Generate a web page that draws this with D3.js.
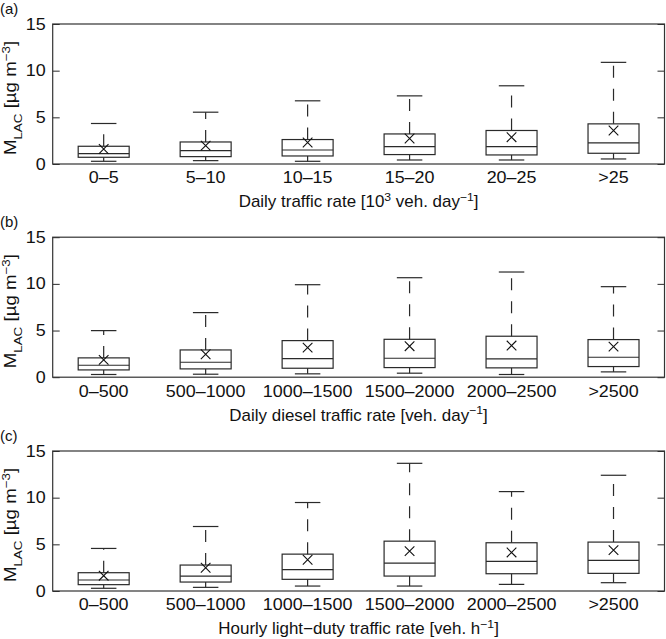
<!DOCTYPE html>
<html>
<head>
<meta charset="utf-8">
<script src="https://cdn.jsdelivr.net/npm/d3@7"></script>
<style>
  html, body { margin: 0; padding: 0; background: #fff; }
  svg { display: block; }
  text { font-family: "Liberation Sans", Arial, Helvetica, sans-serif; fill: #111; }
</style>
</head>
<body>
<svg id="chart" width="666" height="639"></svg>
<script>
// ---------- data ----------
const catsA = ["0–5", "5–10", "10–15", "15–20", "20–25", ">25"];
const catsB = ["0–500", "500–1000", "1000–1500", "1500–2000", "2000–2500", ">2500"];
const catsC = ["0–500", "500–1000", "1000–1500", "1500–2000", "2000–2500", ">2500"];

const lowA  = [0.29, 0.36, 0.29, 0.43, 0.43, 0.54];
const q1A   = [0.72, 0.79, 0.86, 1.01, 0.97, 1.15];
const medA  = [1.12, 1.44, 1.50, 1.87, 1.87, 2.26];
const q3A   = [1.90, 2.36, 2.62, 3.22, 3.59, 4.30];
const highA = [4.34, 5.55, 6.77, 7.30, 8.38, 10.89];
const meanA = [1.61, 1.97, 2.30, 2.73, 2.87, 3.59];

const lowB  = [0.29, 0.32, 0.36, 0.43, 0.29, 0.57];
const q1B   = [0.78, 0.89, 0.96, 1.03, 1.00, 1.14];
const medB  = [1.28, 1.60, 2.00, 2.03, 1.96, 2.14];
const q3B   = [2.07, 2.92, 3.92, 4.06, 4.39, 4.03];
const highB = [4.99, 6.92, 9.91, 10.66, 11.27, 9.70];
const meanB = [1.85, 2.46, 3.17, 3.32, 3.39, 3.28];

const lowC  = [0.29, 0.39, 0.53, 0.53, 0.71, 0.89];
const q1C   = [0.68, 0.96, 1.25, 1.60, 1.85, 1.89];
const medC  = [1.18, 1.60, 2.28, 2.99, 3.17, 3.28];
const q3C   = [1.96, 2.78, 3.95, 5.34, 5.17, 5.24];
const highC = [4.56, 6.91, 9.48, 13.68, 10.65, 12.40];
const meanC = [1.64, 2.49, 3.35, 4.27, 4.13, 4.38];

const yTicks = [0, 5, 10, 15];
const panelLetters = ["(a)", "(b)", "(c)"];

// ---------- layout ----------
const svg = d3.select("#chart");
const left = 52.7, right = 664.5;
const panelTops = [24, 237.2, 451];
const panelH = 140;
const lineCol = "#2a2a2a";
const fontSize = 16;
const sxTick = 1.12;   // horizontal glyph stretch to match the reference lettering
const sxTitle = 1.06;

const panels = [
  { cats: catsA, low: lowA, q1: q1A, med: medA, q3: q3A, high: highA, mean: meanA,
    xtitle: [["Daily traffic rate [10", null], ["3", "sup"], [" veh. day", null], ["−1", "sup"], ["]", null]] },
  { cats: catsB, low: lowB, q1: q1B, med: medB, q3: q3B, high: highB, mean: meanB,
    xtitle: [["Daily diesel traffic rate [veh. day", null], ["−1", "sup"], ["]", null]] },
  { cats: catsC, low: lowC, q1: q1C, med: medC, q3: q3C, high: highC, mean: meanC,
    xtitle: [["Hourly light−duty traffic rate [veh. h", null], ["−1", "sup"], ["]", null]] }
];

function addRich(sel, parts, baseSize) {
  parts.forEach(([txt, kind]) => {
    const t = sel.append("tspan").text(txt);
    if (kind === "sup") {
      t.attr("font-size", baseSize * 0.72).attr("baseline-shift", "super");
    } else if (kind === "sub") {
      t.attr("font-size", baseSize * 0.72).attr("baseline-shift", "sub");
    }
  });
}

function stretch(sel, s) {
  sel.each(function () {
    const t = d3.select(this);
    const x0 = +t.attr("x") || 0, y0 = +t.attr("y") || 0;
    t.attr("transform", `translate(${x0},${y0}) scale(${s},1) translate(${-x0},${-y0})`);
  });
}

panels.forEach((p, pi) => {
  const top = panelTops[pi];
  const bottom = top + panelH;
  const g = svg.append("g");

  const x = d3.scaleBand().domain(p.cats).range([left, right]).paddingInner(0.5).paddingOuter(0.25);
  const y = d3.scaleLinear().domain([0, 15]).range([bottom, top]);
  const bw = x.bandwidth();

  // left axis
  const ax = g.append("g").attr("transform", `translate(${left},0)`)
    .call(d3.axisLeft(y).tickValues(yTicks).tickSizeInner(-7).tickSizeOuter(0).tickPadding(7));
  ax.select(".domain").remove();
  ax.selectAll("line").attr("stroke", lineCol);
  ax.selectAll("text").attr("font-size", fontSize).attr("fill", "#111")
    .attr("font-family", '"Liberation Sans", Arial, sans-serif');
  stretch(ax.selectAll("text"), sxTick);

  // right axis (ticks only)
  const axr = g.append("g").attr("transform", `translate(${right},0)`)
    .call(d3.axisRight(y).tickValues(yTicks).tickSizeInner(-7).tickSizeOuter(0).tickFormat(""));
  axr.select(".domain").remove();
  axr.selectAll("line").attr("stroke", lineCol);

  // bottom axis labels
  const axb = g.append("g").attr("transform", `translate(0,${bottom})`)
    .call(d3.axisBottom(x).tickSize(0).tickPadding(8));
  axb.select(".domain").remove();
  axb.selectAll("text").attr("font-size", fontSize).attr("fill", "#111")
    .attr("font-family", '"Liberation Sans", Arial, sans-serif');
  stretch(axb.selectAll("text"), sxTick);

  // frame
  g.append("rect").attr("x", left).attr("y", top)
    .attr("width", right - left).attr("height", bottom - top)
    .attr("fill", "none").attr("stroke", "#333").attr("stroke-width", 1.2);

  const idx = d3.range(p.cats.length);
  const cx = i => x(p.cats[i]) + bw / 2;
  const boxes = g.append("g").attr("fill", "none").attr("stroke", lineCol).attr("stroke-width", 1.2);

  // whiskers (dashed)
  boxes.selectAll("line.wu").data(idx).join("line").attr("class", "wu")
    .attr("x1", cx).attr("x2", cx)
    .attr("y1", i => y(p.q3[i])).attr("y2", i => y(p.high[i]))
    .attr("stroke-dasharray", "12,11");
  boxes.selectAll("line.wl").data(idx).join("line").attr("class", "wl")
    .attr("x1", cx).attr("x2", cx)
    .attr("y1", i => y(p.q1[i])).attr("y2", i => y(p.low[i]))
    .attr("stroke-dasharray", "12,11");
  // caps
  boxes.selectAll("line.cu").data(idx).join("line").attr("class", "cu")
    .attr("x1", i => cx(i) - bw / 4).attr("x2", i => cx(i) + bw / 4)
    .attr("y1", i => y(p.high[i])).attr("y2", i => y(p.high[i]));
  boxes.selectAll("line.cl").data(idx).join("line").attr("class", "cl")
    .attr("x1", i => cx(i) - bw / 4).attr("x2", i => cx(i) + bw / 4)
    .attr("y1", i => y(p.low[i])).attr("y2", i => y(p.low[i]));
  // box
  boxes.selectAll("rect.box").data(idx).join("rect").attr("class", "box")
    .attr("x", i => x(p.cats[i])).attr("width", bw)
    .attr("y", i => y(p.q3[i])).attr("height", i => y(p.q1[i]) - y(p.q3[i]))
    .attr("fill", "none");
  // median
  boxes.selectAll("line.med").data(idx).join("line").attr("class", "med")
    .attr("x1", i => x(p.cats[i])).attr("x2", i => x(p.cats[i]) + bw)
    .attr("y1", i => y(p.med[i])).attr("y2", i => y(p.med[i]));
  // mean markers (x)
  const ms = 4.8;
  boxes.selectAll("path.mean").data(idx).join("path").attr("class", "mean")
    .attr("d", i => {
      const X = cx(i), Y = y(p.mean[i]);
      return `M${X - ms},${Y - ms}L${X + ms},${Y + ms}M${X - ms},${Y + ms}L${X + ms},${Y - ms}`;
    })
    .attr("stroke", "#111").attr("stroke-width", 1.1);

  // y title
  const yt = g.append("text")
    .attr("transform", `translate(${16},${(top + bottom) / 2 + 4}) rotate(-90) scale(${sxTick * 1.04},1)`)
    .attr("text-anchor", "middle").attr("font-size", fontSize);
  addRich(yt, [["M", null], ["LAC", "sub"], [" [µg m", null], ["−3", "sup"], ["]", null]], fontSize);

  // x title
  const xt = g.append("text")
    .attr("x", (left + right) / 2).attr("y", bottom + 43.5)
    .attr("text-anchor", "middle").attr("font-size", fontSize);
  addRich(xt, p.xtitle, fontSize);
  stretch(xt, sxTitle);

  // panel letter
  g.append("text").attr("x", 0).attr("y", top - 10.5)
    .attr("font-size", fontSize - 1).text(panelLetters[pi]);
});
</script>
</body>
</html>
